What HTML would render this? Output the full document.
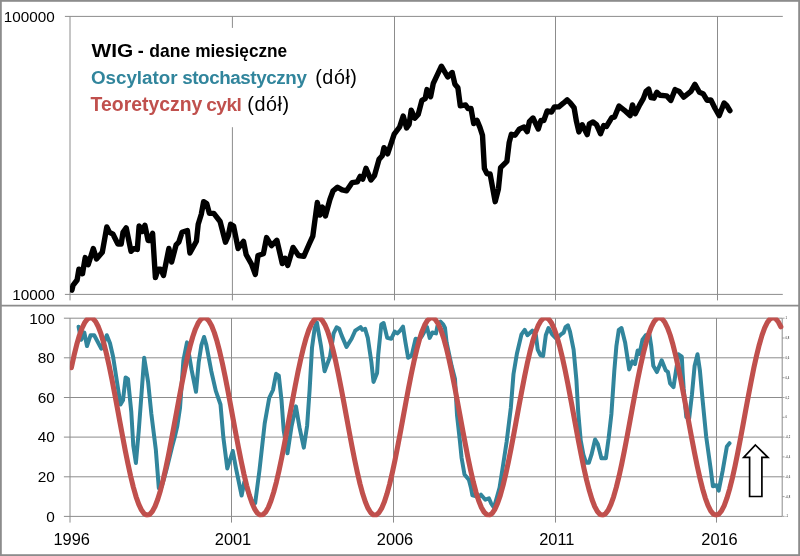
<!DOCTYPE html>
<html lang="pl">
<head>
<meta charset="utf-8">
<title>WIG - dane miesięczne</title>
<style>
html,body{margin:0;padding:0;background:#fff;}
body{width:800px;height:556px;overflow:hidden;font-family:"Liberation Sans",sans-serif;}
svg{display:block;will-change:transform;}
</style>
</head>
<body>
<svg width="800" height="556" viewBox="0 0 800 556">
<rect x="0" y="0" width="800" height="556" fill="#fff"/>
<line x1="64.9" y1="16.4" x2="782.8" y2="16.4" stroke="#8c8c8c" stroke-width="1"/>
<line x1="64.9" y1="294.4" x2="782.8" y2="294.4" stroke="#8c8c8c" stroke-width="1"/>
<line x1="70.0" y1="16.4" x2="70.0" y2="300.4" stroke="#8c8c8c" stroke-width="1"/>
<line x1="232.4" y1="16.4" x2="232.4" y2="300.4" stroke="#8c8c8c" stroke-width="1"/>
<line x1="394.5" y1="16.4" x2="394.5" y2="300.4" stroke="#8c8c8c" stroke-width="1"/>
<line x1="555.5" y1="16.4" x2="555.5" y2="300.4" stroke="#8c8c8c" stroke-width="1"/>
<line x1="717.5" y1="16.4" x2="717.5" y2="300.4" stroke="#8c8c8c" stroke-width="1"/>
<line x1="63.9" y1="318.2" x2="782" y2="318.2" stroke="#8c8c8c" stroke-width="1"/>
<line x1="63.9" y1="357.8" x2="782" y2="357.8" stroke="#8c8c8c" stroke-width="1"/>
<line x1="63.9" y1="397.5" x2="782" y2="397.5" stroke="#8c8c8c" stroke-width="1"/>
<line x1="63.9" y1="437.1" x2="782" y2="437.1" stroke="#8c8c8c" stroke-width="1"/>
<line x1="63.9" y1="476.8" x2="782" y2="476.8" stroke="#8c8c8c" stroke-width="1"/>
<line x1="63.9" y1="516.4" x2="782" y2="516.4" stroke="#8c8c8c" stroke-width="1"/>
<line x1="70.0" y1="318.1" x2="70.0" y2="522.6" stroke="#8c8c8c" stroke-width="1"/>
<line x1="231.5" y1="318.1" x2="231.5" y2="522.6" stroke="#8c8c8c" stroke-width="1"/>
<line x1="393.5" y1="318.1" x2="393.5" y2="522.6" stroke="#8c8c8c" stroke-width="1"/>
<line x1="555.5" y1="318.1" x2="555.5" y2="522.6" stroke="#8c8c8c" stroke-width="1"/>
<line x1="716.5" y1="318.1" x2="716.5" y2="522.6" stroke="#8c8c8c" stroke-width="1"/>
<line x1="782.2" y1="318.2" x2="782.2" y2="516.4" stroke="#8c8c8c" stroke-width="1"/>
<line x1="782.2" y1="318.2" x2="784.6" y2="318.2" stroke="#8c8c8c" stroke-width="0.8"/>
<text x="785.6" y="319.2" font-size="2.7" fill="#111">1</text>
<line x1="782.2" y1="338.0" x2="784.6" y2="338.0" stroke="#8c8c8c" stroke-width="0.8"/>
<text x="785.6" y="339.0" font-size="2.7" fill="#111">0,8</text>
<line x1="782.2" y1="357.8" x2="784.6" y2="357.8" stroke="#8c8c8c" stroke-width="0.8"/>
<text x="785.6" y="358.8" font-size="2.7" fill="#111">0,6</text>
<line x1="782.2" y1="377.7" x2="784.6" y2="377.7" stroke="#8c8c8c" stroke-width="0.8"/>
<text x="785.6" y="378.7" font-size="2.7" fill="#111">0,4</text>
<line x1="782.2" y1="397.5" x2="784.6" y2="397.5" stroke="#8c8c8c" stroke-width="0.8"/>
<text x="785.6" y="398.5" font-size="2.7" fill="#111">0,2</text>
<line x1="782.2" y1="417.3" x2="784.6" y2="417.3" stroke="#8c8c8c" stroke-width="0.8"/>
<text x="785.6" y="418.3" font-size="2.7" fill="#111">0</text>
<line x1="782.2" y1="437.1" x2="784.6" y2="437.1" stroke="#8c8c8c" stroke-width="0.8"/>
<text x="785.6" y="438.1" font-size="2.7" fill="#111">-0,2</text>
<line x1="782.2" y1="456.9" x2="784.6" y2="456.9" stroke="#8c8c8c" stroke-width="0.8"/>
<text x="785.6" y="457.9" font-size="2.7" fill="#111">-0,4</text>
<line x1="782.2" y1="476.8" x2="784.6" y2="476.8" stroke="#8c8c8c" stroke-width="0.8"/>
<text x="785.6" y="477.8" font-size="2.7" fill="#111">-0,6</text>
<line x1="782.2" y1="496.6" x2="784.6" y2="496.6" stroke="#8c8c8c" stroke-width="0.8"/>
<text x="785.6" y="497.6" font-size="2.7" fill="#111">-0,8</text>
<line x1="782.2" y1="516.4" x2="784.6" y2="516.4" stroke="#8c8c8c" stroke-width="0.8"/>
<text x="785.6" y="517.4" font-size="2.7" fill="#111">-1</text>
<rect x="82" y="27.9" width="290" height="99.3" fill="#fff"/>
<clipPath id="cpt"><rect x="69.9" y="10" width="720" height="290"/></clipPath>
<polyline clip-path="url(#cpt)" points="71.90,290.20 73.00,285.40 77.10,280.00 78.90,269.20 82.50,273.70 85.20,257.60 88.20,264.70 93.30,248.60 96.50,259.00 102.30,252.20 106.80,227.00 109.50,232.40 113.00,234.20 117.90,244.00 121.20,244.00 123.00,232.40 126.20,227.90 131.00,251.30 133.70,248.60 137.30,249.50 139.10,226.00 142.40,231.50 144.90,225.20 148.10,240.50 150.00,240.50 152.60,233.30 155.40,277.60 158.10,269.10 160.80,269.10 163.50,275.40 168.90,248.50 171.60,262.00 176.10,244.90 178.80,242.20 182.00,232.30 187.40,230.50 189.90,253.00 196.40,241.30 198.20,224.20 201.30,214.30 203.60,201.70 206.70,203.50 209.40,213.40 213.80,213.40 220.10,221.50 225.50,242.20 228.20,235.90 230.60,224.20 233.60,226.00 238.10,248.50 243.50,241.30 246.20,254.70 251.70,264.50 255.30,274.40 258.00,255.50 263.40,253.70 266.60,237.60 271.50,245.60 276.90,240.30 282.30,263.60 285.00,258.20 287.70,265.40 293.10,247.40 298.50,255.50 303.80,256.40 309.20,244.00 312.80,236.20 317.30,202.50 320.00,215.10 322.40,207.00 325.40,216.00 329.90,199.50 333.10,190.80 337.60,187.20 342.10,189.90 346.60,190.80 352.00,182.70 357.40,181.80 360.10,176.40 362.80,179.10 366.00,168.30 370.90,180.00 374.50,175.50 379.00,159.40 382.20,155.80 384.00,147.70 387.60,154.00 394.20,134.20 399.60,127.00 403.20,116.00 406.60,128.00 409.10,124.40 411.20,110.10 414.80,118.20 418.20,114.50 421.90,100.40 425.20,98.60 427.00,89.60 430.60,96.80 433.30,83.30 441.40,66.20 447.70,77.00 452.20,72.50 454.90,84.20 457.90,87.80 460.30,105.80 465.60,104.90 468.00,108.50 471.00,108.50 473.70,123.60 477.00,120.40 480.00,127.60 482.50,135.30 484.40,168.50 487.10,173.90 490.10,173.90 495.20,201.70 498.40,189.10 500.60,167.60 506.90,161.30 509.20,142.40 511.40,134.30 515.00,135.20 519.50,128.90 524.00,127.10 527.20,131.60 529.40,121.70 533.00,118.00 538.30,129.00 540.90,120.50 543.80,120.50 547.20,111.00 551.60,112.00 554.30,107.00 558.80,106.80 563.30,103.20 567.20,99.90 570.50,103.20 574.10,107.70 576.40,121.20 578.90,131.90 582.20,124.70 587.20,134.60 589.40,123.80 593.00,122.00 596.50,124.70 600.50,133.70 603.70,125.60 606.40,126.50 611.80,117.60 614.50,117.00 619.00,106.00 624.40,110.30 630.10,115.60 632.50,104.90 635.20,113.80 639.70,104.90 643.30,98.60 646.00,91.40 648.70,89.20 651.00,97.70 654.00,98.20 656.80,92.30 660.00,95.30 666.70,95.90 670.80,100.40 675.10,89.60 679.20,91.40 683.70,97.10 690.90,91.40 694.90,84.30 699.40,92.30 703.10,93.70 707.00,100.20 710.90,100.00 715.10,108.50 719.20,115.60 724.10,103.10 727.00,105.80 729.90,110.60" fill="none" stroke="#000" stroke-width="5.4" stroke-linejoin="round" stroke-linecap="round"/>
<clipPath id="cp"><rect x="69.9" y="317.6" width="720" height="200"/></clipPath><g clip-path="url(#cp)">
<polyline points="78.60,326.80 80.20,335.20 81.20,339.70 84.30,332.50 87.00,346.00 90.60,335.20 94.20,335.20 101.40,348.70 106.80,335.20 110.00,343.30 113.10,356.80 120.50,404.50 123.00,400.30 125.60,377.40 128.00,379.20 131.30,412.00 133.30,445.80 135.90,463.00 138.70,431.40 144.20,357.70 148.10,381.90 151.30,413.40 155.80,449.40 158.80,488.00 161.50,487.00 164.20,478.00 166.90,468.00 169.60,457.00 172.30,446.00 175.00,436.00 177.30,426.00 180.00,408.00 183.40,360.40 187.00,342.40 191.50,369.40 196.00,391.80 198.70,362.20 201.40,345.10 204.10,337.00 206.40,345.10 211.30,371.20 215.80,390.90 220.50,404.50 223.40,437.80 227.30,468.50 232.80,451.00 236.00,468.30 241.60,495.50 244.30,482.00 247.00,489.00 249.70,496.00 252.40,502.00 255.20,503.00 259.50,470.00 264.70,423.40 269.20,398.00 273.00,390.00 276.10,373.80 278.80,375.60 281.50,400.00 283.70,430.30 287.50,453.30 291.60,426.00 295.90,406.40 299.50,427.40 303.80,447.60 307.10,426.00 309.60,390.00 312.00,347.80 314.70,328.00 316.90,322.60 321.00,346.00 324.60,371.20 330.00,356.80 333.60,333.40 336.60,327.30 339.20,328.70 341.70,335.60 346.50,346.90 351.60,338.80 355.20,330.70 360.60,327.10 362.40,329.80 365.10,328.90 367.80,337.90 371.40,362.20 373.50,381.90 377.10,373.00 378.20,355.00 381.30,324.40 383.60,323.00 387.20,337.90 391.20,338.80 394.70,331.60 397.40,333.40 400.10,330.70 403.00,326.70 405.40,342.00 408.10,357.70 411.70,355.50 415.60,338.80 419.00,339.70 422.00,336.00 427.00,327.00 429.70,337.90 432.40,332.50 436.00,333.40 437.40,326.20 440.50,321.70 443.20,324.40 445.00,328.00 446.60,342.40 451.60,365.80 455.00,379.00 457.00,415.00 459.90,441.00 461.60,458.00 464.50,474.50 468.80,479.60 470.90,487.50 472.40,495.40 475.30,496.00 478.10,497.60 481.00,494.70 485.30,499.70 488.90,498.30 491.10,503.30 494.00,507.60 499.60,487.50 503.40,463.00 506.60,442.00 510.80,408.00 513.50,374.00 517.00,353.20 521.50,334.30 524.70,329.80 527.40,335.20 532.30,330.70 535.90,335.20 537.70,349.60 540.40,355.00 543.10,355.90 545.80,335.20 548.50,328.00 552.10,334.30 556.50,338.80 561.00,334.30 563.70,332.50 565.50,327.10 567.90,325.30 570.00,331.60 573.60,349.60 576.40,380.00 578.20,412.00 580.70,440.40 583.40,454.70 586.10,462.80 588.80,462.80 591.50,454.70 595.10,439.50 597.80,444.00 601.40,458.30 605.90,458.30 608.60,438.60 611.40,414.00 614.30,371.20 616.40,346.00 618.80,329.80 621.50,328.00 625.10,342.40 629.20,369.40 632.30,361.30 635.00,364.00 637.70,350.50 639.50,354.00 642.50,339.70 645.80,335.20 649.40,334.30 651.20,346.00 653.30,365.80 656.90,372.10 661.70,360.30 665.80,370.40 667.90,371.80 670.10,383.30 673.50,387.10 676.50,367.50 678.50,354.30 681.80,356.70 682.60,372.00 683.70,389.00 686.30,417.00 689.20,418.00 691.90,395.00 694.60,366.00 697.50,354.20 699.90,370.40 702.60,400.00 706.20,436.70 710.70,469.00 712.90,486.30 716.50,485.30 718.70,490.60 722.60,471.20 726.90,446.40 729.50,443.20" fill="none" stroke="#31859c" stroke-width="4" stroke-linejoin="round" stroke-linecap="round"/>
<polyline points="71.35,367.67 74.05,355.45 76.74,344.58 79.44,335.31 82.14,327.83 84.84,322.31 87.54,318.88 90.23,317.61 92.93,318.53 95.63,321.61 98.33,326.80 101.02,333.98 103.72,342.98 106.42,353.60 109.12,365.62 111.81,378.77 114.51,392.74 117.21,407.25 119.91,421.95 122.61,436.53 125.30,450.67 128.00,464.05 130.70,476.37 133.40,487.36 136.09,496.78 138.79,504.42 141.49,510.10 144.19,513.72 146.89,515.17 149.58,514.44 152.28,511.53 154.98,506.51 157.68,499.50 160.37,490.65 163.07,480.15 165.77,468.24 168.47,455.18 171.16,441.26 173.86,426.79 176.56,412.09 179.26,397.48 181.96,383.30 184.65,369.85 187.35,357.42 190.05,346.31 192.75,336.75 195.44,328.95 198.14,323.10 200.84,319.31 203.54,317.67 206.24,318.22 208.93,320.94 211.63,325.78 214.33,332.63 217.03,341.34 219.72,351.70 222.42,363.51 225.12,376.48 227.82,390.34 230.51,404.78 233.21,419.47 235.91,434.09 238.61,448.33 241.31,461.85 244.00,474.37 246.70,485.61 249.40,495.31 252.10,503.26 254.79,509.29 257.49,513.26 260.19,515.08 262.89,514.71 265.59,512.17 268.28,507.51 270.98,500.82 273.68,492.27 276.38,482.03 279.07,470.34 281.77,457.45 284.47,443.66 287.17,429.26 289.86,414.57 292.56,399.93 295.26,385.65 297.96,372.05 300.66,359.44 303.35,348.08 306.05,338.25 308.75,330.14 311.45,323.94 314.14,319.80 316.84,317.79 319.54,317.97 322.24,320.33 324.94,324.82 327.63,331.34 330.33,339.74 333.03,349.85 335.73,361.42 338.42,374.22 341.12,387.95 343.82,402.31 346.52,416.98 349.21,431.64 351.91,445.97 354.61,459.63 357.31,472.34 360.01,483.81 362.70,493.79 365.40,502.05 368.10,508.41 370.80,512.73 373.49,514.92 376.19,514.93 378.89,512.75 381.59,508.44 384.29,502.09 386.98,493.83 389.68,483.87 392.38,472.40 395.08,459.70 397.77,446.04 400.47,431.72 403.17,417.06 405.87,402.38 408.56,388.02 411.26,374.29 413.96,361.49 416.66,349.90 419.36,339.79 422.05,331.38 424.75,324.85 427.45,320.35 430.15,317.98 432.84,317.79 435.54,319.78 438.24,323.92 440.94,330.10 443.64,338.20 446.33,348.03 449.03,359.38 451.73,371.99 454.43,385.58 457.12,399.86 459.82,414.50 462.52,429.18 465.22,443.59 467.91,457.39 470.61,470.28 473.31,481.97 476.01,492.22 478.71,500.78 481.40,507.48 484.10,512.15 486.80,514.71 489.50,515.08 492.19,513.27 494.89,509.31 497.59,503.30 500.29,495.35 502.99,485.66 505.68,474.43 508.38,461.92 511.08,448.40 513.78,434.17 516.47,419.54 519.17,404.85 521.87,390.41 524.57,376.55 527.26,363.57 529.96,351.76 532.66,341.38 535.36,332.67 538.06,325.81 540.75,320.96 543.45,318.23 546.15,317.67 548.85,319.29 551.54,323.07 554.24,328.92 556.94,336.71 559.64,346.26 562.34,357.37 565.03,369.78 567.73,383.23 570.43,397.41 573.13,412.01 575.82,426.72 578.52,441.19 581.22,455.11 583.92,468.18 586.61,480.09 589.31,490.60 592.01,499.46 594.71,506.48 597.41,511.51 600.10,514.43 602.80,515.17 605.50,513.73 608.20,510.13 610.89,504.45 613.59,496.82 616.29,487.41 618.99,476.43 621.69,464.11 624.38,450.74 627.08,436.61 629.78,422.03 632.48,407.32 635.17,392.82 637.87,378.84 640.57,365.69 643.27,353.66 645.96,343.03 648.66,334.02 651.36,326.83 654.06,321.63 656.76,318.54 659.45,317.61 662.15,318.87 664.85,322.29 667.55,327.79 670.24,335.26 672.94,344.53 675.64,355.39 678.34,367.60 681.04,380.90 683.73,394.98 686.43,409.53 689.13,424.24 691.83,438.77 694.52,452.81 697.22,466.04 699.92,478.17 702.62,488.94 705.31,498.09 708.01,505.44 710.71,510.81 713.41,514.09 716.11,515.20 718.80,514.12 721.50,510.88 724.20,505.55 726.90,498.24 729.59,489.12 732.29,478.38 734.99,466.27 737.69,453.06 740.39,439.03 743.08,424.51 745.78,409.80 748.48,395.24 751.18,381.15 753.87,367.83 756.57,355.60 759.27,344.71 761.97,335.41 764.66,327.91 767.36,322.37 770.06,318.91 772.76,317.61 775.46,318.50 778.15,321.56 780.85,326.72" fill="none" stroke="#c0504d" stroke-width="5.1" stroke-linejoin="round" stroke-linecap="round"/>
</g>
<polygon points="755.4,445 767.9,457.3 761.9,457.3 761.9,496.5 749.6,496.5 749.6,457.3 743.7,457.3" fill="#fff" stroke="#000" stroke-width="1.7" stroke-linejoin="miter"/>
<line x1="0" y1="305.6" x2="800" y2="305.6" stroke="#8c8c8c" stroke-width="1.6"/>
<rect x="0.9" y="0.9" width="798.2" height="554.2" fill="none" stroke="#8c8c8c" stroke-width="1.8"/>
<g font-family="'Liberation Sans', sans-serif" fill="#000">
<text transform="translate(54.8,21.5) scale(1,0.980)" font-size="15.3" text-anchor="end">100000</text>
<text transform="translate(54.8,299.5) scale(1,0.980)" font-size="15.3" text-anchor="end">10000</text>
<text transform="translate(54.9,323.5) scale(1,0.980)" font-size="15.4" text-anchor="end">100</text>
<text transform="translate(54.9,363.1) scale(1,0.980)" font-size="15.4" text-anchor="end">80</text>
<text transform="translate(54.9,402.8) scale(1,0.980)" font-size="15.4" text-anchor="end">60</text>
<text transform="translate(54.9,442.4) scale(1,0.980)" font-size="15.4" text-anchor="end">40</text>
<text transform="translate(54.9,482.1) scale(1,0.980)" font-size="15.4" text-anchor="end">20</text>
<text transform="translate(54.9,521.7) scale(1,0.980)" font-size="15.4" text-anchor="end">0</text>
<text transform="translate(71.7,545.4) scale(1,0.980)" font-size="16.4" text-anchor="middle">1996</text>
<text transform="translate(233.0,545.4) scale(1,0.980)" font-size="16.4" text-anchor="middle">2001</text>
<text transform="translate(395.0,545.4) scale(1,0.980)" font-size="16.4" text-anchor="middle">2006</text>
<text transform="translate(556.8,545.4) scale(1,0.980)" font-size="16.4" text-anchor="middle">2011</text>
<text transform="translate(719.5,545.4) scale(1,0.980)" font-size="16.4" text-anchor="middle">2016</text>
</g>
<g font-family="'Liberation Sans', sans-serif">
<text transform="translate(91.6,56.6) scale(1.07,0.95)" font-weight="bold" font-size="19.5" fill="#000">WIG</text>
<text transform="translate(0,56.6) scale(1,1.06)" font-weight="bold" fill="#000"><tspan x="137.8" font-size="18">-</tspan><tspan x="149.3" font-size="17.5">dane</tspan><tspan x="195.2" font-size="17.25">miesięczne</tspan></text>
<text y="84"><tspan x="90.9" font-size="18.8" font-weight="bold" fill="#31859c">Oscylator</tspan><tspan x="182.2" font-size="18.8" letter-spacing="-0.4" font-weight="bold" fill="#31859c">stochastyczny</tspan><tspan x="315.2" font-size="19.8" letter-spacing="0.55" fill="#000">(dół)</tspan></text>
<text y="111"><tspan x="90.6" font-size="19.4" font-weight="bold" fill="#c0504d">Teoretyczny</tspan><tspan x="206.3" font-size="19.2" letter-spacing="-0.6" font-weight="bold" fill="#c0504d">cykl</tspan><tspan x="247.3" font-size="19.8" letter-spacing="0.55" fill="#000">(dół)</tspan></text>
</g>
</svg>
</body>
</html>
